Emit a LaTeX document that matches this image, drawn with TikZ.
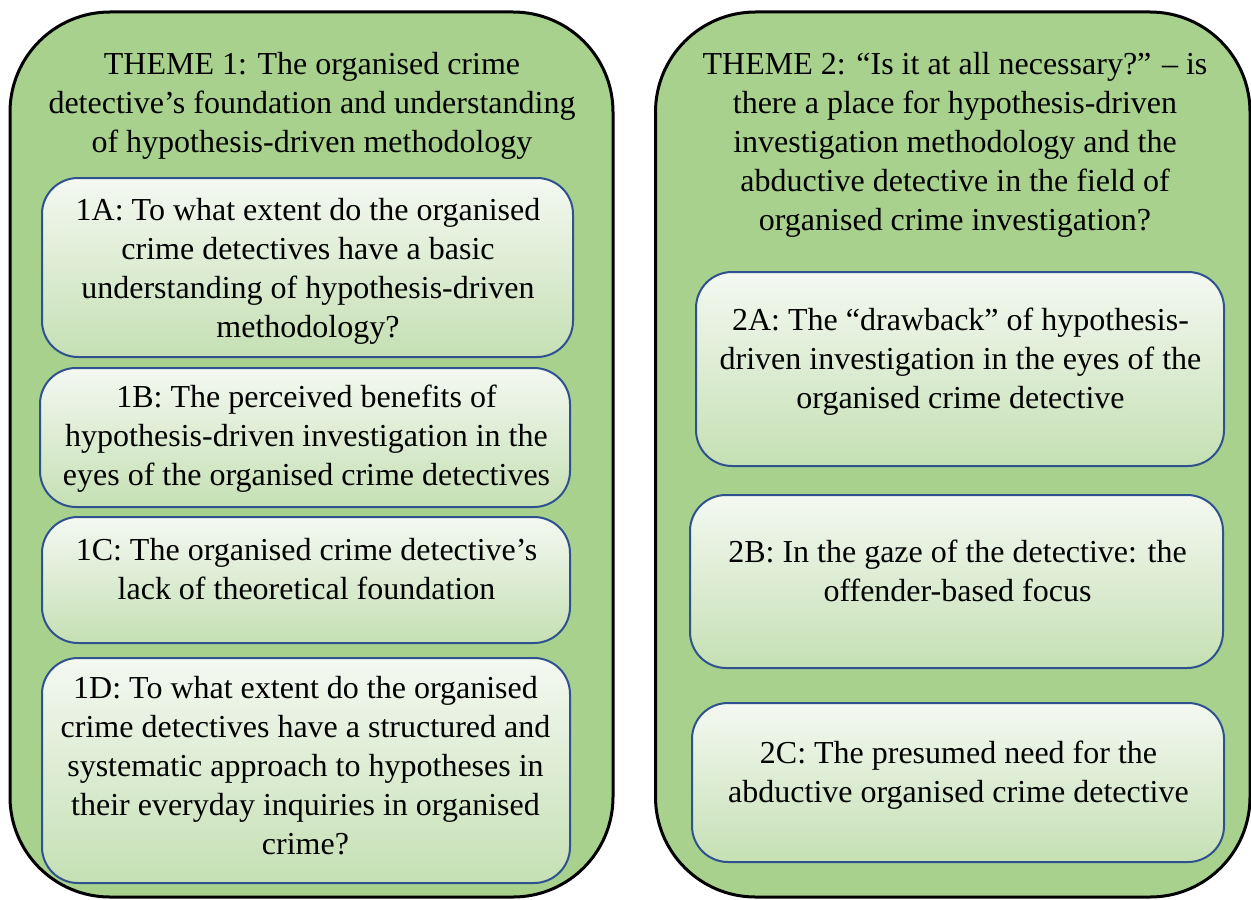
\documentclass[tikz,border=0pt]{standalone}
\usepackage{fontspec}
\setmainfont{Liberation Serif}
\usepackage{xcolor}
\usepackage{tikz}
\usetikzlibrary{positioning}
\definecolor{themegreen}{HTML}{A9D18E}
\definecolor{subblue}{HTML}{2F528F}
\definecolor{fadetop}{HTML}{F4F8F1}
\definecolor{fadebot}{HTML}{C5E0B4}

\begin{document}
\begin{tikzpicture}[x=0.5pt,y=-0.5pt,
  theme/.style={draw=black,line width=1.5pt,fill=themegreen,rounded corners=50pt,inner sep=0pt},
  subbox/.style={draw=subblue,line width=1pt,rounded corners=18pt,top color=fadetop,bottom color=fadebot,inner sep=0pt},
  txt/.style={align=center,inner sep=0pt,font=\fontsize{16}{19.5}\selectfont}]
\useasboundingbox (0,0) rectangle (1251,899);
% the two theme panels
\node[theme,minimum width=301.5pt,minimum height=442.5pt] (panel1) at (311.5,454.5) {};
\node[theme,minimum width=297.25pt,minimum height=442.5pt] (panel2) at (952.75,454.5) {};
\node[txt] (title1) at (312,105.5) {THEME 1: The organised crime\\detective’s foundation and understanding\\of hypothesis-driven methodology};
\node[txt] (title2) at (955,144.5) {THEME 2: “Is it at all necessary?” – is\\there a place for hypothesis-driven\\investigation methodology and the\\abductive detective in the field of\\organised crime investigation?};
% theme 1 boxes
\node[subbox,minimum width=265.5pt,minimum height=89.5pt] (box1A) at (307.5,267.5) {};
\node[subbox,minimum width=265pt,minimum height=69.5pt] (box1B) at (305,437.5) {};
\node[subbox,minimum width=264pt,minimum height=63pt] (box1C) at (306,580) {};
\node[subbox,minimum width=264pt,minimum height=112.5pt] (box1D) at (306,770.5) {};
\node[txt] (t1A) at (308,271) {1A: To what extent do the organised\\crime detectives have a basic\\understanding of hypothesis-driven\\methodology?};
\node[txt] (t1B) at (306.5,438.5) {1B: The perceived benefits of\\hypothesis-driven investigation in the\\eyes of the organised crime detectives};
\node[txt] (t1C) at (306.5,569) {1C: The organised crime detective’s\\lack of theoretical foundation};
\node[txt] (t1D) at (305.5,766) {1D: To what extent do the organised\\crime detectives have a structured and\\systematic approach to hypotheses in\\their everyday inquiries in organised\\crime?};
% theme 2 boxes
\node[subbox,minimum width=264pt,minimum height=97pt] (box2A) at (960,369) {};
\node[subbox,minimum width=266.5pt,minimum height=86.5pt] (box2B) at (956.5,581.5) {};
\node[subbox,minimum width=266pt,minimum height=79.5pt] (box2C) at (958,782.5) {};
\node[txt] (t2A) at (960.5,362) {2A: The “drawback” of hypothesis-\\driven investigation in the eyes of the\\organised crime detective};
\node[txt] (t2B) at (957.5,571) {2B: In the gaze of the detective: the\\offender-based focus};
\node[txt] (t2C) at (958.5,775) {2C: The presumed need for the\\abductive organised crime detective};
\end{tikzpicture}
\end{document}
